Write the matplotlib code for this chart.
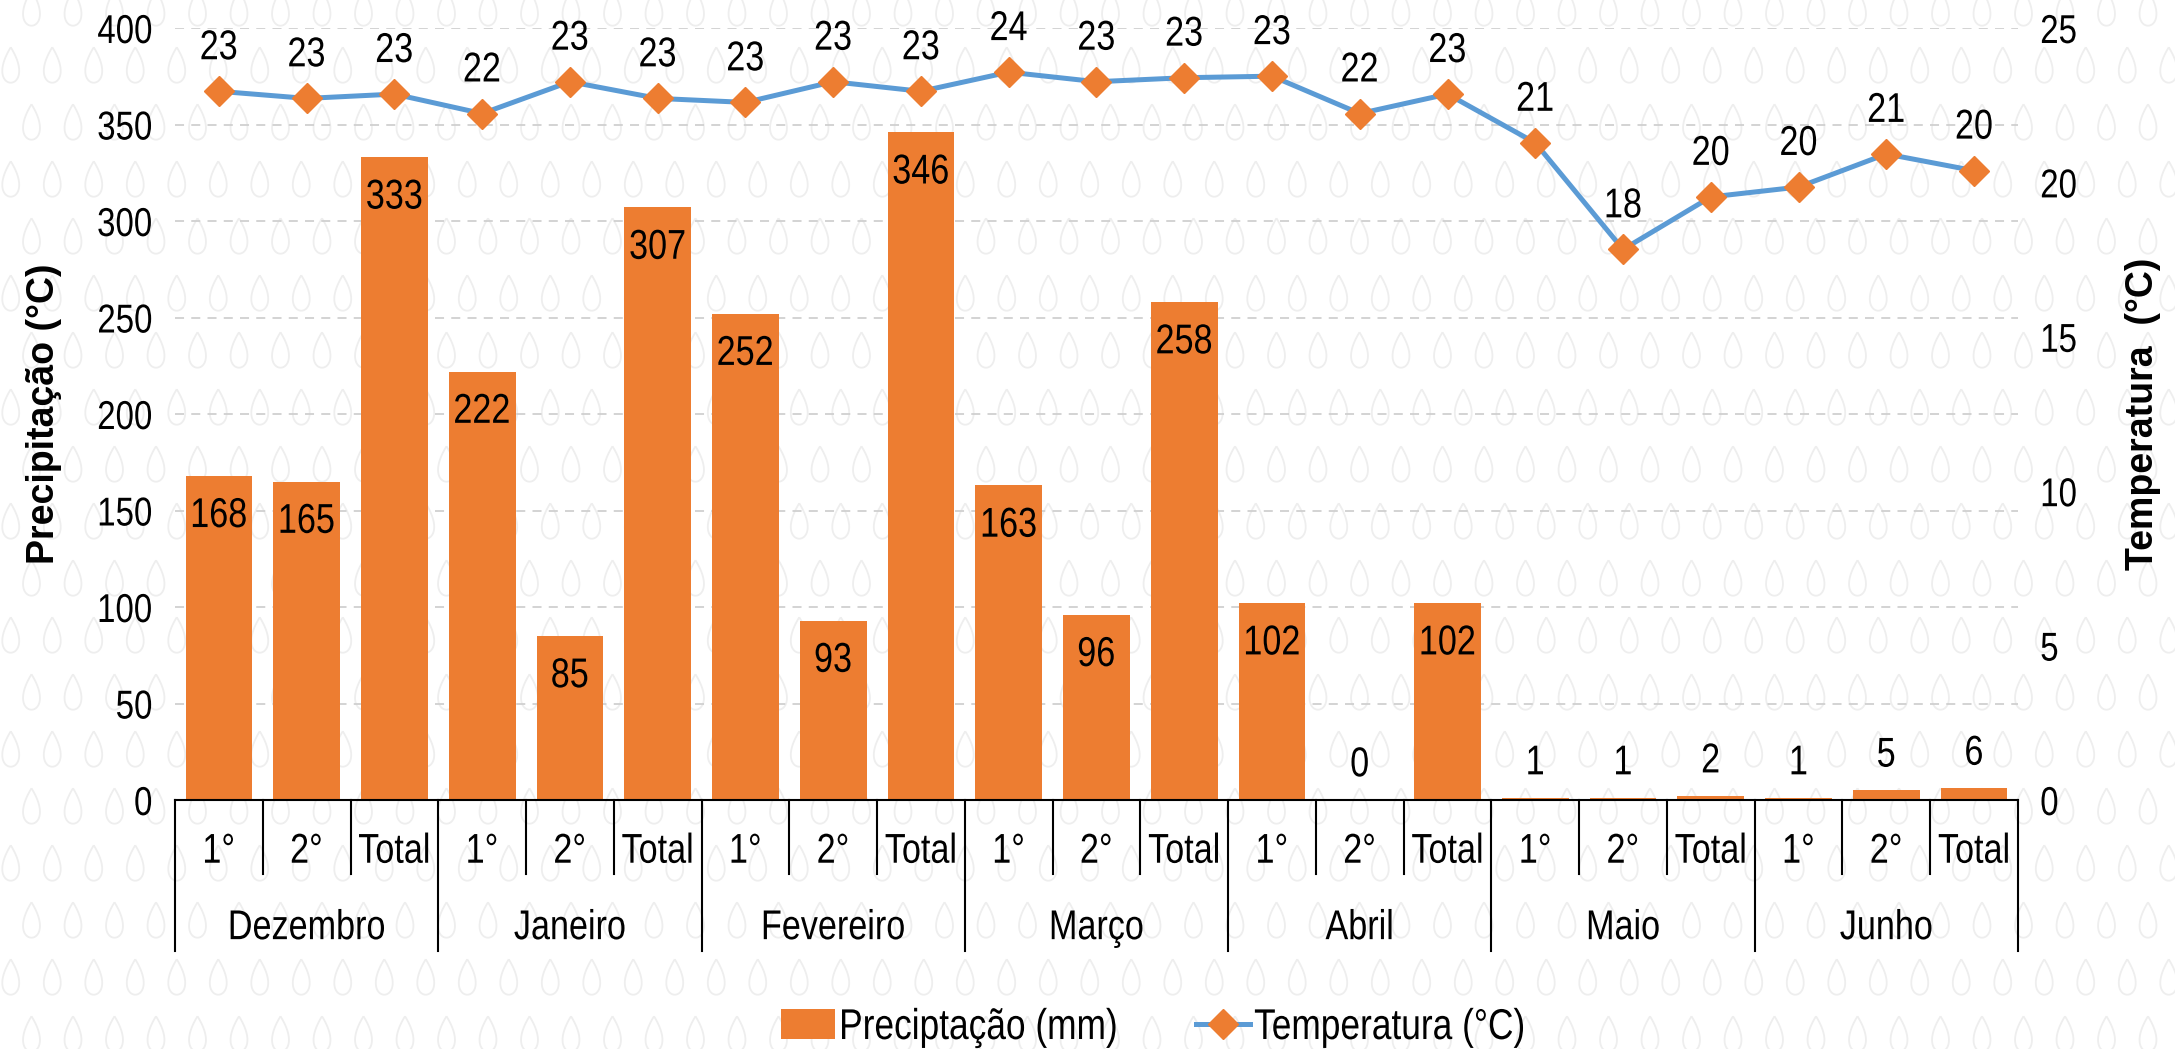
import matplotlib
matplotlib.use('Agg')
import matplotlib.pyplot as plt
import numpy as np
from matplotlib.path import Path
from matplotlib.patches import Patch
from matplotlib.lines import Line2D
from matplotlib.patheffects import AbstractPathEffect
from matplotlib.transforms import Affine2D
import matplotlib.transforms as mtransforms

plt.rcParams['font.family'] = ['Liberation Sans', 'DejaVu Sans']

months = ['Dezembro', 'Janeiro', 'Fevereiro', 'Março', 'Abril', 'Maio', 'Junho']
periods = ['1°', '2°', 'Total']
precip = [168, 165, 333, 222, 85, 307, 252, 93, 346, 163, 96, 258, 102, 0, 102, 1, 1, 2, 1, 5, 6]
temp = [22.95, 22.72, 22.86, 22.23, 23.26, 22.72, 22.59, 23.26, 22.95, 23.57, 23.26, 23.39,
        23.44, 22.23, 22.86, 21.28, 17.83, 19.53, 19.85, 20.92, 20.38]

orange = '#ED7D31'
blue = '#5B9BD5'


class Narrow(AbstractPathEffect):
    # squeeze text horizontally to mimic a condensed font
    def __init__(self, sx=0.82, anchor=0.5):
        super().__init__()
        self.sx = sx
        self.anchor = anchor

    def draw_path(self, renderer, gc, tpath, affine, rgbFace=None):
        w = tpath.get_extents().x1
        shift = (1 - self.sx) * w * self.anchor
        aff = Affine2D().scale(self.sx, 1).translate(shift, 0) + affine
        renderer.draw_path(gc, tpath, aff, rgbFace)


W, H = 2175, 1049
fig = plt.figure(figsize=(W / 100, H / 100), dpi=100)

# faint droplet pattern in the background (staggered rows)
bg = fig.add_axes([0, 0, 1, 1], zorder=-5)
bg.set_xlim(0, W); bg.set_ylim(H, 0); bg.axis('off')
t = np.linspace(0, 2 * np.pi, 60)
drop = Path(np.column_stack([0.62 * np.sin(t) * np.sin(t / 2), np.cos(t)]))
gx, gy = np.meshgrid(np.arange(-10, W + 40, 41.5), np.arange(8, H + 40, 57))
gx = gx + (np.arange(gy.shape[0]) % 2)[:, None] * 20.75
bg.scatter(gx.ravel(), gy.ravel(), marker=drop, s=650, facecolors='none',
           edgecolors='#eeeeee', linewidths=1.3)

ax = fig.add_axes([175 / W, 1 - 800 / H, (2018 - 175) / W, 772 / H])
ax.set_facecolor('none')
x = np.arange(len(precip))
ax.bar(x, precip, width=0.76, color=orange, zorder=2)
ax.set_xlim(-0.5, len(precip) - 0.5)
ax.set_ylim(0, 400)
ax.set_yticks(range(0, 401, 50))
ax.set_axisbelow(True)
ax.yaxis.grid(True, color='#d0d0d0', linestyle=(0, (5, 4)), linewidth=1.3)
ax.tick_params(axis='y', length=0, labelsize=29, pad=16)
ax.set_xticks([])
for s in ['left', 'right', 'top']:
    ax.spines[s].set_visible(False)
ax.spines['bottom'].set_linewidth(1.5)
ax.spines['bottom'].set_zorder(4)
for lbl in ax.get_yticklabels():
    lbl.set_path_effects([Narrow(anchor=1.0)])

for i, v in enumerate(precip):
    off = -29 if v > 30 else 25
    ax.annotate(f'{v:.0f}', (i, v), xytext=(0, off), textcoords='offset points',
                ha='center', va='center', fontsize=30, zorder=5,
                path_effects=[Narrow()])

ax.set_ylabel('Precipitação (°C)', fontsize=27, fontweight='bold', labelpad=17)

ax2 = ax.twinx()
ax2.set_ylim(0, 25)
ax2.set_yticks(range(0, 26, 5))
ax2.tick_params(axis='y', length=0, labelsize=29, pad=16)
for s in ax2.spines.values():
    s.set_visible(False)
for lbl in ax2.get_yticklabels():
    lbl.set_path_effects([Narrow(anchor=0.0)])
ax2.plot(x, temp, color=blue, linewidth=3.6, marker='D', markersize=15,
         markerfacecolor=orange, markeredgecolor=orange, zorder=3)
for i, v in enumerate(temp):
    ax2.annotate(f'{v:.0f}', (i, v), xytext=(0, 31), textcoords='offset points',
                 ha='center', va='center', fontsize=30, path_effects=[Narrow()])
ax2.set_ylabel('Temperatura  (°C)', fontsize=27, fontweight='bold', labelpad=29)

# multi-level category axis
tr = mtransforms.blended_transform_factory(ax.transData, ax.transAxes)
for b in range(len(precip) + 1):
    low = -0.1956 if b % 3 == 0 else -0.0959
    ax.plot([b - 0.5, b - 0.5], [0, low], color='black', linewidth=1.5,
            transform=tr, clip_on=False)
for i in range(len(precip)):
    ax.text(i, -0.067, periods[i % 3], transform=tr, ha='center', va='center',
            fontsize=30, path_effects=[Narrow()])
for m, name in enumerate(months):
    ax.text(3 * m + 1, -0.166, name, transform=tr, ha='center', va='center',
            fontsize=30, path_effects=[Narrow()])

handles = [Patch(facecolor=orange, edgecolor='none'),
           Line2D([], [], color=blue, linewidth=3.6, marker='D', markersize=15,
                  markerfacecolor=orange, markeredgecolor=orange)]
leg = fig.legend(handles, ['Preciptação (mm)', 'Temperatura (°C)'], loc='center left',
                 bbox_to_anchor=(781 / W, 0.020), ncol=2, frameon=False, fontsize=31,
                 handlelength=1.25, handleheight=0.72, handletextpad=0.1,
                 columnspacing=0.4, borderpad=0, borderaxespad=0)
for txt in leg.get_texts():
    txt.set_path_effects([Narrow(anchor=0.0)])

fig.savefig('out.png', dpi=100)
